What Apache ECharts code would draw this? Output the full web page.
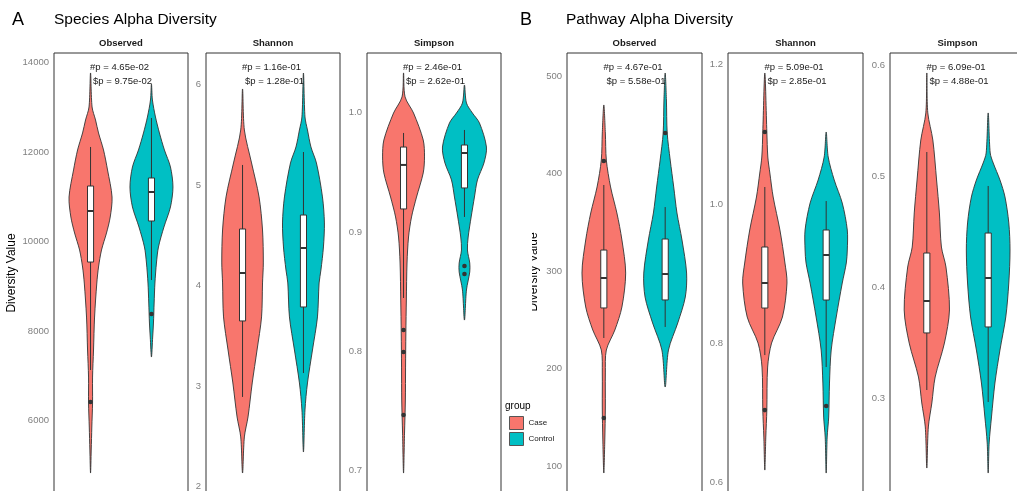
<!DOCTYPE html>
<html>
<head>
<meta charset="utf-8">
<script src="https://cdn.jsdelivr.net/npm/echarts@6/dist/echarts.min.js"></script>
<style>
  html, body { margin: 0; padding: 0; background: #fff; }
  #chart { width: 1017px; height: 491px; }
</style>
</head>
<body>
<div id="chart"></div>
<script>
// groups
const groups = ['Case', 'Control'];
const groupColors = ['#F8766D', '#00BFC4'];
const metrics = ['Observed', 'Shannon', 'Simpson'];

// p-value annotations per panel (A Observed, Shannon, Simpson, B Observed, Shannon, Simpson)
const pHash = ['#p = 4.65e-02', '#p = 1.16e-01', '#p = 2.46e-01', '#p = 4.67e-01', '#p = 5.09e-01', '#p = 6.09e-01'];
const pDollar = ['$p = 9.75e-02', '$p = 1.28e-01', '$p = 2.62e-01', '$p = 5.58e-01', '$p = 2.85e-01', '$p = 4.88e-01'];

// violin outlines: [value, half width in x units]; boxes: [lower whisker, q1, median, q3, upper whisker]
// --- A: species, Observed
const spObsCase = [[13766,0],[13006,0.025],[12715,0.082],[12425,0.131],[12045,0.213],[11598,0.279],[10994,0.353],[10547,0.323],[10190,0.262],[9810,0.180],[9430,0.131],[9072,0.103],[8312,0.066],[7575,0.049],[6971,0.033],[6390,0.033],[5854,0.021],[5340,0.011],[4826,0]];
const spObsCaseBox = [7128, 9541, 10681, 11240, 12112];
const spObsCaseOut = [6412];
const spObsCtrl = [[13520,0],[13162,0.016],[12782,0.066],[12425,0.131],[12045,0.213],[11665,0.312],[11218,0.353],[10771,0.312],[10324,0.205],[9877,0.115],[9519,0.082],[9072,0.057],[8625,0.044],[8178,0.033],[7865,0.02],[7418,0]];
const spObsCtrlBox = [9139, 10458, 11106, 11419, 12760];
const spObsCtrlOut = [8379];
// --- A: species, Shannon
const spShaCase = [[5.955,0],[5.547,0.03],[5.219,0.148],[4.881,0.271],[4.552,0.328],[4.224,0.341],[4.025,0.328],[3.687,0.312],[3.358,0.238],[3.030,0.159],[2.692,0.090],[2.493,0.03],[2.134,0]];
const spShaCaseBox = [2.891, 3.647, 4.124, 4.562, 5.199];
const spShaCaseOut = [];
const spShaCtrl = [[6.114,0],[5.677,0.025],[5.547,0.066],[5.378,0.123],[5.219,0.213],[4.881,0.312],[4.622,0.344],[4.383,0.328],[4.154,0.287],[4.025,0.257],[3.687,0.23],[3.358,0.148],[3.030,0.066],[2.761,0.025],[2.343,0]];
const spShaCtrlBox = [3.129, 3.786, 4.373, 4.701, 5.328];
const spShaCtrlOut = [];
// --- A: species, Simpson
const spSimCase = [[1.0333,0],[1.0132,0.025],[0.9997,0.164],[0.9771,0.323],[0.9629,0.344],[0.9495,0.323],[0.9293,0.213],[0.9126,0.131],[0.8958,0.082],[0.8740,0.057],[0.8430,0.046],[0.8153,0.038],[0.7868,0.033],[0.7592,0.03],[0.7315,0.016],[0.6980,0]];
const spSimCaseBox = [0.8447, 0.9193, 0.9562, 0.9712, 0.9830];
const spSimCaseOut = [0.8179, 0.7994, 0.7466];
const spSimCtrl = [[1.0232,0],[1.0081,0.033],[0.9997,0.131],[0.9914,0.246],[0.9712,0.361],[0.9578,0.32],[0.9436,0.213],[0.9293,0.164],[0.9126,0.11],[0.8958,0.061],[0.8849,0.049],[0.8740,0.087],[0.8665,0.087],[0.8514,0.033],[0.8262,0]];
const spSimCtrlBox = [0.9126, 0.9369, 0.9662, 0.9729, 0.9855];
const spSimCtrlOut = [0.8715, 0.8648];
// --- B: pathway, Observed
const pwObsCase = [[470.3,0],[441.5,0.025],[413.8,0.041],[386.2,0.11],[359.5,0.213],[331.8,0.295],[297.9,0.356],[263.1,0.295],[239.5,0.18],[219.0,0.041],[195.4,0.025],[160.5,0.025],[126.7,0.016],[92.8,0]];
const pwObsCaseBox = [231.3, 262.1, 292.8, 321.5, 388.2];
const pwObsCaseOut = [412.8, 149.2];
const pwObsCtrl = [[503.1,0],[475.4,0.02],[441.5,0.033],[413.8,0.082],[386.2,0.139],[359.5,0.192],[331.8,0.274],[297.9,0.349],[273.3,0.328],[246.7,0.205],[219.0,0.054],[181.0,0]];
const pwObsCtrlBox = [242.6, 270.3, 296.9, 332.8, 365.6];
const pwObsCtrlOut = [441.5];
// --- B: pathway, Shannon
const pwShaCase = [[1.1881,0],[1.1034,0.033],[1.0675,0.049],[1.0445,0.082],[1.0101,0.136],[0.9627,0.246],[0.9153,0.328],[0.8866,0.361],[0.8378,0.287],[0.8004,0.11],[0.7660,0.046],[0.7042,0.033],[0.6655,0.016],[0.6181,0]];
const pwShaCaseBox = [0.7832, 0.8507, 0.8866, 0.9383, 1.0244];
const pwShaCaseOut = [1.1034, 0.7042];
const pwShaCtrl = [[1.1034,0],[1.0675,0.033],[1.0345,0.131],[1.0014,0.262],[0.9627,0.344],[0.9340,0.344],[0.9153,0.328],[0.8866,0.262],[0.8378,0.164],[0.7904,0.082],[0.7430,0.054],[0.6942,0.041],[0.6655,0.016],[0.6138,0]];
const pwShaCtrlBox = [0.7660, 0.8622, 0.9268, 0.9627, 1.0043];
const pwShaCtrlOut = [0.7100];
// --- B: pathway, Simpson
const pwSimCase = [[0.5928,0],[0.5568,0.016],[0.5324,0.098],[0.4964,0.159],[0.4667,0.205],[0.4360,0.238],[0.4180,0.312],[0.3793,0.369],[0.3495,0.287],[0.3189,0.136],[0.2955,0.082],[0.2739,0.025],[0.2369,0]];
const pwSimCaseBox = [0.3072, 0.3586, 0.3874, 0.4306, 0.5216];
const pwSimCaseOut = [];
const pwSimCtrl = [[0.5568,0],[0.5207,0.033],[0.5117,0.082],[0.4964,0.192],[0.4811,0.274],[0.4577,0.336],[0.4333,0.356],[0.4036,0.336],[0.3730,0.287],[0.3432,0.192],[0.3135,0.11],[0.2829,0.054],[0.2595,0.016],[0.2324,0]];
const pwSimCtrlBox = [0.2964, 0.3640, 0.4081, 0.4486, 0.4910];
const pwSimCtrlOut = [];

// axis ranges per panel
const yMin = [4000, 1, 0.6, 0, 0.4, 0.2];
const yMax = [14212, 6.313, 1.05, 523.6, 1.2168, 0.6108];
const yStep = [2000, 1, 0.1, 100, 0.2, 0.1];
const yDigits = [0, 0, 1, 0, 1, 1];

// panel layout (px)
const panelLeft = [54, 206, 367, 567, 728, 890];
const panelWidth = [134, 134, 134, 135, 135, 135];
const panelHeight = [457, 534, 537, 510.5, 569, 456];
const PANEL_TOP = 53;

const panelData = [
  [[spObsCase, spObsCaseBox, spObsCaseOut], [spObsCtrl, spObsCtrlBox, spObsCtrlOut]],
  [[spShaCase, spShaCaseBox, spShaCaseOut], [spShaCtrl, spShaCtrlBox, spShaCtrlOut]],
  [[spSimCase, spSimCaseBox, spSimCaseOut], [spSimCtrl, spSimCtrlBox, spSimCtrlOut]],
  [[pwObsCase, pwObsCaseBox, pwObsCaseOut], [pwObsCtrl, pwObsCtrlBox, pwObsCtrlOut]],
  [[pwShaCase, pwShaCaseBox, pwShaCaseOut], [pwShaCtrl, pwShaCtrlBox, pwShaCtrlOut]],
  [[pwSimCase, pwSimCaseBox, pwSimCaseOut], [pwSimCtrl, pwSimCtrlBox, pwSimCtrlOut]]
];

const FONT = '"Liberation Sans", Arial, sans-serif';
const LINE = '#333333';
const BOX_HALF = 0.05;

function violinSeries(idx, g) {
  const [outline, box, outliers] = panelData[idx][g];
  const x = g + 1;
  return {
    type: 'custom',
    name: groups[g],
    xAxisIndex: idx,
    yAxisIndex: idx,
    silent: true,
    itemStyle: { color: groupColors[g] },
    data: [[x]],
    renderItem: (params, api) => {
      const pts = outline.map(([v, w]) => api.coord([x - w, v]));
      outline.slice().reverse().forEach(([v, w]) => {
        if (w > 0) pts.push(api.coord([x + w, v]));
      });
      const children = [{
        type: 'polygon',
        shape: { points: pts, smooth: 0.3 },
        style: { fill: groupColors[g], stroke: LINE, lineWidth: 0.9 }
      }];
      const lo = api.coord([x, box[0]]);
      const hi = api.coord([x, box[4]]);
      children.push({
        type: 'line',
        shape: { x1: lo[0], y1: lo[1], x2: hi[0], y2: hi[1] },
        style: { stroke: LINE, lineWidth: 1 }
      });
      const tl = api.coord([x - BOX_HALF, box[3]]);
      const br = api.coord([x + BOX_HALF, box[1]]);
      children.push({
        type: 'rect',
        shape: { x: tl[0], y: tl[1], width: br[0] - tl[0], height: br[1] - tl[1] },
        style: { fill: '#ffffff', stroke: LINE, lineWidth: 1 }
      });
      const ml = api.coord([x - BOX_HALF, box[2]]);
      const mr = api.coord([x + BOX_HALF, box[2]]);
      children.push({
        type: 'line',
        shape: { x1: ml[0], y1: ml[1], x2: mr[0], y2: mr[1] },
        style: { stroke: LINE, lineWidth: 2 }
      });
      outliers.forEach(v => {
        const c = api.coord([x, v]);
        children.push({
          type: 'circle',
          shape: { cx: c[0], cy: c[1], r: 2.3 },
          style: { fill: LINE }
        });
      });
      return { type: 'group', children };
    }
  };
}

const grids = [], xAxes = [], yAxes = [], series = [], texts = [];
for (let i = 0; i < 6; i++) {
  grids.push({
    left: panelLeft[i], top: PANEL_TOP, width: panelWidth[i], height: panelHeight[i],
    outerBoundsMode: 'none', containLabel: false,
    show: true, borderColor: LINE, borderWidth: 1, backgroundColor: 'transparent'
  });
  xAxes.push({ gridIndex: i, type: 'value', min: 0.4, max: 2.6, show: false });
  yAxes.push({
    gridIndex: i, type: 'value', min: yMin[i], max: yMax[i], interval: yStep[i],
    axisLine: { show: false }, axisTick: { show: false }, splitLine: { show: false },
    axisLabel: {
      color: '#7f7f7f', fontSize: 9.5, fontFamily: FONT, margin: 5,
      showMaxLabel: false,
      formatter: v => Number(v).toFixed(yDigits[i])
    }
  });
  series.push(violinSeries(i, 0), violinSeries(i, 1));

  const cx = panelLeft[i] + panelWidth[i] / 2;
  texts.push({
    type: 'text', x: cx, y: 43,
    style: { text: metrics[i % 3], fill: '#1a1a1a', fontSize: 9.5, fontWeight: 'bold', fontFamily: FONT, textAlign: 'center', verticalAlign: 'middle' }
  });
  texts.push({
    type: 'text', x: cx - 1.5, y: 67, z: 10,
    style: { text: pHash[i], fill: '#1a1a1a', fontSize: 9.5, fontFamily: FONT, textAlign: 'center', verticalAlign: 'middle' }
  });
  texts.push({
    type: 'text', x: cx + 1.5, y: 81, z: 10,
    style: { text: pDollar[i], fill: '#1a1a1a', fontSize: 9.5, fontFamily: FONT, textAlign: 'center', verticalAlign: 'middle' }
  });
}

// panel letters, titles, axis titles, legend title
texts.push(
  { type: 'text', x: 12, y: 20, style: { text: 'A', fill: '#000', fontSize: 18, fontFamily: FONT, verticalAlign: 'middle' } },
  { type: 'text', x: 54, y: 20, style: { text: 'Species Alpha Diversity', fill: '#000', fontSize: 15.5, fontFamily: FONT, verticalAlign: 'middle' } },
  { type: 'text', x: 520, y: 20, style: { text: 'B', fill: '#000', fontSize: 18, fontFamily: FONT, verticalAlign: 'middle' } },
  { type: 'text', x: 566, y: 20, style: { text: 'Pathway Alpha Diversity', fill: '#000', fontSize: 15.5, fontFamily: FONT, verticalAlign: 'middle' } },
  { type: 'text', x: 12, y: 273, rotation: Math.PI / 2, style: { text: 'Diversity Value', fill: '#000', fontSize: 12, fontFamily: FONT, textAlign: 'center', verticalAlign: 'middle' } },
  { type: 'text', x: 534, y: 272, rotation: Math.PI / 2, style: { text: 'Diversity Value', fill: '#000', fontSize: 12, fontFamily: FONT, textAlign: 'center', verticalAlign: 'middle' } },
  { type: 'rect', shape: { x: 515, y: 225, width: 17, height: 95 }, z: 20, style: { fill: '#ffffff' } },
  { type: 'text', x: 505, y: 406, style: { text: 'group', fill: '#000', fontSize: 10, fontFamily: FONT, verticalAlign: 'middle' } }
);

const chart = echarts.init(document.getElementById('chart'), null, { renderer: 'canvas' });
chart.setOption({
  backgroundColor: '#ffffff',
  animation: false,
  grid: grids,
  xAxis: xAxes,
  yAxis: yAxes,
  legend: {
    data: groups, orient: 'vertical', left: 509, top: 416, padding: 0,
    itemWidth: 14, itemHeight: 13, itemGap: 2, icon: 'rect',
    itemStyle: { borderColor: '#555', borderWidth: 1 },
    textStyle: { fontSize: 8, fontFamily: FONT, color: '#1a1a1a' },
    selectedMode: false
  },
  graphic: texts,
  series: series
});
</script>
</body>
</html>
